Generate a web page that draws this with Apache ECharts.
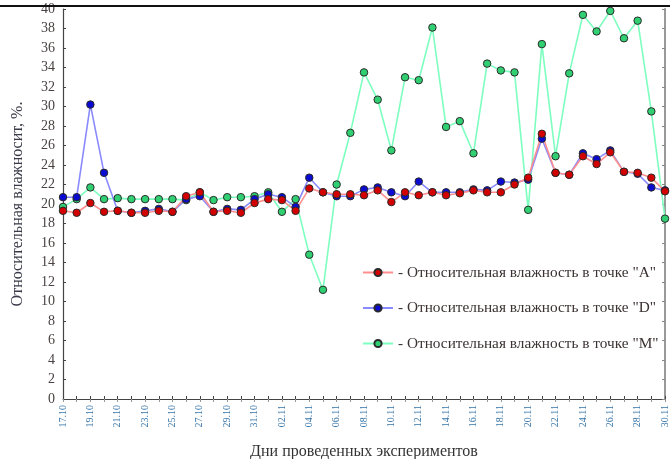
<!DOCTYPE html>
<html>
<head>
<meta charset="utf-8">
<script src="https://cdn.jsdelivr.net/npm/echarts@6.0.0/dist/echarts.min.js"></script>
<style>
  html, body { margin: 0; padding: 0; background: #fff; }
  #chart { width: 670px; height: 459px; }
</style>
</head>
<body>
<div id="chart"></div>
<script>
// дни эксперимента 17.10 - 30.11
var days = [
  '17.10', '18.10', '19.10', '20.10', '21.10', '22.10', '23.10', '24.10', '25.10', '26.10',
  '27.10', '28.10', '29.10', '30.10', '31.10', '01.11', '02.11', '03.11', '04.11', '05.11',
  '06.11', '07.11', '08.11', '09.11', '10.11', '11.11', '12.11', '13.11', '14.11', '15.11',
  '16.11', '17.11', '18.11', '19.11', '20.11', '21.11', '22.11', '23.11', '24.11', '25.11',
  '26.11', '27.11', '28.11', '29.11', '30.11'
]

// точка A
var humA = [
  19.3, 19.1, 20.1, 19.2, 19.3, 19.1, 19.1, 19.3, 19.2, 20.8,
  21.2, 19.2, 19.3, 19.1, 20.1, 20.5, 20.4, 19.3, 21.6, 21.2,
  21.0, 21.0, 20.9, 21.4, 20.2, 21.2, 20.9, 21.2, 20.9, 21.1,
  21.4, 21.2, 21.2, 22.0, 22.7, 27.2, 23.2, 23.0, 24.9, 24.1,
  25.3, 23.3, 23.2, 22.7, 21.3
]
// точка D
var humD = [
  20.7, 20.7, 30.2, 23.2, 19.3, 19.1, 19.3, 19.5, 19.2, 20.5,
  20.8, 19.2, 19.5, 19.4, 20.5, 21.0, 20.7, 19.7, 22.7, 21.2,
  20.8, 20.8, 21.5, 21.7, 21.2, 20.8, 22.3, 21.2, 21.2, 21.2,
  21.5, 21.4, 22.3, 22.2, 22.5, 26.7, 23.2, 23.0, 25.2, 24.6,
  25.5, 23.3, 23.1, 21.7, 21.4
]
// точка M
var humM = [
  19.7, 20.5, 21.7, 20.5, 20.6, 20.5, 20.5, 20.5, 20.5, 20.4,
  21.2, 20.4, 20.7, 20.7, 20.8, 21.2, 19.2, 20.5, 14.8, 11.2,
  22.0, 27.3, 33.5, 30.7, 25.5, 33.0, 32.7, 38.1, 27.9, 28.5,
  25.2, 34.4, 33.7, 33.5, 19.4, 36.4, 24.9, 33.4, 39.4, 37.7,
  39.8, 37.0, 38.8, 29.5, 18.5
]

var nameA = '- Относительная влажность в точке "A"'
var nameD = '- Относительная влажность в точке "D"'
var nameM = '- Относительная влажность в точке "M"'

var serif = '"Liberation Serif", "DejaVu Serif", serif'

function makeLine(name, data, lineColor, dotColor) {
  return {
    name: name,
    type: 'line',
    data: data,
    symbol: 'circle',
    symbolSize: 7.5,
    showAllSymbol: true,
    lineStyle: { color: lineColor, width: 1.6 },
    itemStyle: { color: dotColor, borderColor: '#2a2a2a', borderWidth: 1 },
    emphasis: { disabled: true },
    animation: false
  }
}

var chart = echarts.init(document.getElementById('chart'))

var option = {
  animation: false,
  grid: { left: 63, right: 5, top: 9, bottom: 60, outerBoundsMode: 'none' },
  legend: {
    data: [nameA, nameD, nameM],
    orient: 'vertical',
    left: 357,
    top: 260,
    itemWidth: 30,
    itemHeight: 9,
    itemGap: 20.5,
    textStyle: { fontFamily: serif, fontSize: 15.3, color: '#3b3232' }
  },
  xAxis: [{
    type: 'category',
    data: days,
    boundaryGap: false,
    axisLine: { lineStyle: { color: '#444', width: 1 } },
    axisTick: { inside: true, length: 3, interval: 0, lineStyle: { color: '#444' } },
    axisLabel: {
      interval: 1,
      rotate: 90,
      fontSize: 10,
      fontFamily: serif,
      color: '#3574a8',
      margin: 6
    },
    name: 'Дни проведенных экспериментов',
    nameLocation: 'middle',
    nameGap: 45,
    nameTextStyle: { fontFamily: serif, fontSize: 16, color: '#333' }
  }, {
    type: 'category',
    data: days,
    boundaryGap: false,
    position: 'top',
    axisLine: { show: false },
    axisTick: { inside: true, length: 3, interval: 0, lineStyle: { color: '#999' } },
    axisLabel: { show: false }
  }],
  yAxis: [{
    type: 'value',
    min: 0,
    max: 40,
    interval: 2,
    splitLine: { show: false },
    axisLine: { show: true, lineStyle: { color: '#444', width: 1.2 } },
    axisTick: { show: true, inside: true, length: 3, lineStyle: { color: '#444' } },
    axisLabel: { fontFamily: serif, fontSize: 14, color: '#4a4242', margin: 8 },
    name: 'Относительная влажносит, %.',
    nameLocation: 'middle',
    nameRotate: 90,
    nameGap: 37,
    nameTextStyle: { fontFamily: serif, fontSize: 16, color: '#3a3a48' }
  }, {
    type: 'value',
    min: 0,
    max: 40,
    interval: 2,
    position: 'right',
    splitLine: { show: false },
    axisLine: { show: true, lineStyle: { color: '#999', width: 2 } },
    axisTick: { show: true, inside: true, length: 3, lineStyle: { color: '#888' } },
    axisLabel: { show: false }
  }],
  graphic: [{
    type: 'line',
    shape: { x1: 0, y1: 6, x2: 670, y2: 6 },
    style: { stroke: '#111', lineWidth: 2 },
    z: 100
  }],
  series: [
    makeLine(nameM, humM, '#7dffbf', '#2fcf72'),
    makeLine(nameD, humD, '#8a8aff', '#0a0ad0'),
    makeLine(nameA, humA, '#ff8f8f', '#d40000')
  ]
}

chart.setOption(option)
</script>
</body>
</html>
